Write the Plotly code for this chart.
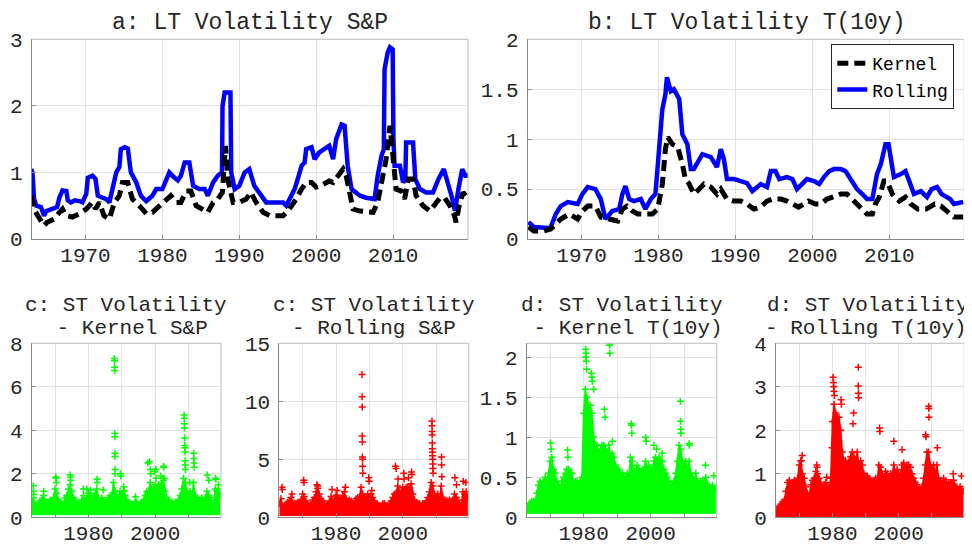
import numpy as np
import plotly.graph_objects as go

FONT = "Liberation Mono, Courier New, monospace"
# The page body has an 8px default margin; the figure is sized so that it
# fills the 972x544 window exactly, and positions below are window pixels.
OFF = 8
W, H = 972 - OFF, 544 - OFF
TXT = "#262626"

# ---------------- Top panels: long-term volatility ----------------
sp_roll_t = [1962.93, 1963.1, 1963.3, 1963.6, 1964.2, 1964.6, 1964.9, 1965.6, 1966.3, 1966.6,
             1967.0, 1967.5, 1967.7, 1968.1, 1968.6, 1969.2, 1969.6, 1970.1, 1970.3, 1970.9,
             1971.3, 1971.6, 1972.2, 1972.7, 1973.1, 1973.5, 1974.0, 1974.4, 1974.6, 1975.1,
             1975.5, 1975.9, 1976.6, 1977.2, 1977.9, 1978.7, 1979.2, 1980.0, 1980.5, 1980.9,
             1981.3, 1982.0, 1982.4, 1982.9, 1983.5, 1984.0, 1984.8, 1985.5, 1985.9, 1986.6,
             1987.2, 1987.75, 1987.82, 1988.1, 1988.85, 1988.95, 1989.4, 1990.0, 1990.7, 1991.3,
             1991.95, 1992.6, 1993.5, 1994.2, 1995.0, 1995.7, 1996.1, 1996.5, 1997.2, 1997.6,
             1998.1, 1998.5, 1998.7, 1999.4, 1999.8, 2000.4, 2001.1, 2001.7, 2002.2, 2002.6,
             2003.3, 2003.7, 2004.1, 2004.6, 2005.7, 2006.5, 2007.6, 2008.0, 2008.5, 2008.8,
             2008.9, 2009.3, 2009.6, 2009.95, 2010.05, 2010.2, 2010.9, 2011.3, 2011.6, 2011.7,
             2012.6, 2012.9, 2013.5, 2014.3, 2015.2, 2015.9, 2016.6, 2017.0, 2017.6, 2018.0,
             2018.1, 2018.5, 2019.0, 2019.4, 2019.77]
sp_roll_v = [1.05, 1.0, 0.6, 0.5, 0.48, 0.35, 0.42, 0.45, 0.48, 0.62,
             0.73, 0.72, 0.58, 0.55, 0.58, 0.57, 0.55, 0.68, 0.92, 0.95,
             0.9, 0.65, 0.62, 0.6, 0.55, 0.75, 1.0, 1.08, 1.35, 1.38,
             1.36, 1.0, 0.85, 0.65, 0.57, 0.65, 0.75, 0.75, 0.9, 1.0,
             0.95, 0.88, 0.95, 1.15, 1.15, 0.8, 0.75, 0.75, 0.65, 0.85,
             0.95, 1.0, 2.0, 2.2, 2.2, 1.0, 0.75, 0.8, 1.0, 1.05,
             0.8, 0.7, 0.55, 0.55, 0.55, 0.55, 0.5, 0.6, 0.75, 0.9,
             1.1, 1.15, 1.35, 1.38, 1.2, 1.3, 1.35, 1.4, 1.2, 1.5,
             1.72, 1.7, 1.1, 0.75, 0.65, 0.62, 0.6, 0.95, 1.25, 1.35,
             2.55, 2.8, 2.88, 2.85, 1.5, 1.1, 1.1, 0.85, 0.9, 1.45,
             1.45, 0.9, 0.75, 0.7, 0.7, 0.9, 1.05, 0.9, 0.65, 0.45,
             0.45, 0.75, 1.05, 0.95, 0.95]

sp_ker_t = [1962.93, 1963.3, 1963.8, 1964.6, 1965.0, 1965.9, 1966.6, 1967.0, 1967.5, 1968.3,
            1969.2, 1970.1, 1970.9, 1971.3, 1971.8, 1972.4, 1973.1, 1973.75, 1974.4, 1974.8,
            1975.5, 1976.1, 1977.0, 1977.9, 1978.7, 1979.6, 1980.5, 1981.1, 1981.8, 1982.4,
            1983.1, 1983.7, 1984.4, 1985.3, 1985.9, 1986.6, 1987.2, 1987.8, 1988.2, 1988.5,
            1989.2, 1990.0, 1990.9, 1991.5, 1992.2, 1993.1, 1994.0, 1994.8, 1995.7, 1996.5,
            1997.4, 1998.1, 1998.7, 1999.4, 2000.0, 2000.9, 2001.7, 2002.2, 2002.8, 2003.5,
            2003.9, 2004.3, 2004.8, 2005.7, 2006.7, 2007.4, 2008.0, 2008.7, 2009.1, 2009.6,
            2010.0, 2010.4, 2011.1, 2011.5, 2012.0, 2012.6, 2013.0, 2013.9, 2014.8, 2015.4,
            2016.1, 2016.7, 2017.4, 2018.0, 2018.2, 2018.6, 2019.1, 2019.77]
sp_ker_v = [0.65, 0.45, 0.35, 0.2, 0.25, 0.3, 0.4, 0.45, 0.35, 0.33,
            0.38, 0.45, 0.55, 0.45, 0.55, 0.35, 0.3, 0.55, 0.65, 0.85,
            0.85, 0.6, 0.5, 0.38, 0.4, 0.5, 0.6, 0.65, 0.55, 0.55,
            0.72, 0.72, 0.5, 0.45, 0.4, 0.55, 0.6, 0.7, 1.4, 0.9,
            0.55, 0.55, 0.6, 0.7, 0.55, 0.4, 0.35, 0.35, 0.35, 0.45,
            0.6, 0.75, 0.85, 0.85, 0.78, 0.82, 0.87, 0.85, 0.95, 1.05,
            0.95, 0.7, 0.45, 0.42, 0.4, 0.4, 0.55, 1.0, 1.2, 1.7,
            1.2, 0.75, 0.72, 0.6, 0.9, 0.9, 0.65, 0.5, 0.42, 0.5,
            0.62, 0.62, 0.5, 0.35, 0.25, 0.5, 0.7, 0.6]

ty_roll_t = [1963.1, 1963.8, 1965.6, 1966.0, 1966.65, 1967.3, 1968.2, 1969.5, 1970.1, 1970.8,
             1971.8, 1972.5, 1973.1, 1974.0, 1974.9, 1975.3, 1975.7, 1976.2, 1976.8, 1977.7,
             1978.3, 1979.0, 1979.6, 1980.1, 1980.5, 1980.9, 1981.1, 1981.6, 1982.0, 1982.7,
             1983.1, 1983.75, 1984.2, 1984.6, 1985.3, 1985.7, 1986.8, 1987.4, 1987.6, 1988.1,
             1988.5, 1988.9, 1989.8, 1990.7, 1991.5, 1992.2, 1993.3, 1994.1, 1994.6, 1995.2,
             1995.7, 1996.7, 1997.4, 1998.0, 1998.7, 1999.3, 2000.2, 2000.9, 2001.5, 2002.2,
             2002.8, 2003.7, 2004.3, 2005.0, 2005.8, 2006.5, 2007.1, 2007.8, 2008.4, 2008.9,
             2009.5, 2009.9, 2010.4, 2010.6, 2011.5, 2012.1, 2012.5, 2013.2, 2014.1, 2014.9,
             2015.5, 2016.2, 2016.8, 2017.9, 2018.4, 2019.6]
ty_roll_v = [0.17, 0.12, 0.11, 0.12, 0.25, 0.33, 0.37, 0.35, 0.45, 0.52,
             0.5, 0.4, 0.2, 0.28, 0.3, 0.45, 0.53, 0.4, 0.38, 0.4,
             0.3, 0.4, 0.45, 1.0, 1.3, 1.45, 1.62, 1.48, 1.5, 1.4,
             1.05, 0.95, 0.7, 0.7, 0.8, 0.85, 0.82, 0.75, 0.72, 0.9,
             0.8, 0.6, 0.6, 0.58, 0.56, 0.48, 0.55, 0.52, 0.68, 0.68,
             0.6, 0.62, 0.6, 0.5, 0.55, 0.6, 0.58, 0.55, 0.62, 0.68,
             0.7, 0.7, 0.68, 0.6, 0.5, 0.45, 0.4, 0.4, 0.65, 0.75,
             0.95, 0.95, 0.75, 0.62, 0.65, 0.68, 0.6, 0.45, 0.48, 0.42,
             0.5, 0.52, 0.45, 0.4, 0.35, 0.37]

ty_ker_t = [1963.1, 1963.8, 1965.1, 1966.0, 1966.65, 1967.3, 1968.4, 1969.5, 1970.1, 1970.8,
            1971.8, 1972.5, 1973.6, 1974.7, 1975.3, 1975.9, 1976.6, 1977.3, 1978.6, 1979.2,
            1979.9, 1980.5, 1980.9, 1981.2, 1981.8, 1982.5, 1983.1, 1983.5, 1984.0, 1984.6,
            1985.3, 1985.9, 1986.8, 1987.6, 1988.1, 1988.9, 1989.8, 1990.7, 1991.5, 1992.4,
            1993.3, 1994.1, 1994.8, 1995.9, 1996.7, 1997.6, 1998.2, 1998.9, 1999.5, 2000.4,
            2001.1, 2001.9, 2002.8, 2003.7, 2004.5, 2005.4, 2006.3, 2007.1, 2007.8, 2008.2,
            2008.7, 2009.3, 2009.7, 2010.4, 2011.3, 2012.1, 2012.8, 2013.7, 2014.8, 2015.9,
            2016.7, 2017.5, 2018.4, 2019.6]
ty_ker_v = [0.12, 0.08, 0.08, 0.1, 0.15, 0.2, 0.25, 0.2, 0.28, 0.33,
            0.33, 0.22, 0.2, 0.18, 0.3, 0.33, 0.28, 0.25, 0.25, 0.25,
            0.3, 0.55, 0.9, 1.02, 0.95, 0.92, 0.75, 0.6, 0.55, 0.45,
            0.5, 0.55, 0.52, 0.45, 0.5, 0.4, 0.38, 0.38, 0.35, 0.3,
            0.32, 0.38, 0.4, 0.4, 0.38, 0.35, 0.32, 0.35, 0.38, 0.35,
            0.35, 0.4, 0.43, 0.45, 0.45, 0.38, 0.3, 0.25, 0.25, 0.35,
            0.42, 0.58, 0.58, 0.45, 0.38, 0.42, 0.35, 0.3, 0.3, 0.35,
            0.33, 0.28, 0.22, 0.22]

# ---------------- Bottom panels: short-term volatility ----------------
# Dense cloud: upper edge per half-year (1963.0 ... 2019.5), lower edge as floor
half_years = np.arange(1963.0, 2020.0, 0.5)

st_ker_sp_core = [0.6, 0.9,  0.6, 0.55,  0.6, 0.75,  0.8, 1.0,  0.75, 0.7,
                  0.7, 0.8,  0.75, 0.9,  1.3, 1.1,  0.8, 0.7,  0.6, 0.6,
                  0.9, 1.0,  1.3, 1.5,  1.2, 0.9,  0.8, 0.7,  0.6, 0.6,
                  0.8, 1.0,  0.8, 0.9,  1.1, 1.0,  0.9, 0.9,  1.1, 1.3,
                  0.9, 0.8,  0.9, 0.8,  0.7, 0.7,  0.9, 1.0,  1.0, 1.6,
                  1.2, 1.0,  0.9, 1.2,  1.0, 1.2,  1.0, 0.8,  0.7, 0.6,
                  0.6, 0.6,  0.7, 0.7,  0.6, 0.6,  0.7, 0.8,  1.0, 1.2,
                  1.2, 1.6,  1.3, 1.3,  1.5, 1.4,  1.5, 1.5,  1.5, 1.7,
                  1.2, 0.9,  0.8, 0.7,  0.7, 0.6,  0.7, 0.7,  0.8, 1.0,
                  1.3, 1.8,  1.6, 1.2,  1.0, 1.2,  0.9, 1.6,  1.0, 0.9,
                  0.8, 0.8,  0.9, 0.8,  0.9, 1.2,  1.0, 0.9,  0.7, 0.6,
                  1.3, 1.2,  1.3, 1.0]
st_ker_sp_floor = 0.12
st_ker_sp_out_t = [1963.5, 1963.5, 1963.6, 1966.6, 1970.2, 1970.3, 1970.4, 1974.5, 1974.6, 1974.7,
                   1978.5, 1979.5, 1980.6, 1982.6, 1982.7, 1984.5, 1987.8, 1987.8, 1987.85, 1987.85,
                   1987.9, 1987.9, 1987.95, 1987.95, 1988.0, 1988.0, 1989.6, 1989.7, 1990.6, 1990.8,
                   1994.1, 1997.8, 1998.3, 1998.6, 1998.7, 1999.8, 2000.2, 2000.3, 2001.7, 2002.5,
                   2002.6, 2002.7, 2008.7, 2008.75, 2008.8, 2008.8, 2008.85, 2008.9, 2008.9, 2008.95,
                   2009.0, 2009.0, 2009.1, 2010.4, 2011.6, 2011.6, 2011.65, 2011.7, 2015.6, 2016.1,
                   2018.1, 2018.2, 2019.0]
st_ker_sp_out_v = [1.45, 1.2, 1.05, 1.2, 1.85, 1.8, 1.6, 1.95, 1.85, 1.7,
                   1.3, 1.3, 1.25, 1.75, 1.6, 1.25, 7.3, 7.2, 6.9, 6.75,
                   3.85, 3.7, 2.95, 2.8, 2.2, 2.0, 2.0, 1.9, 1.4, 1.2,
                   0.95, 2.5, 2.55, 2.2, 2.0, 2.1, 2.2, 1.8, 1.9, 2.35,
                   2.3, 1.8, 4.7, 4.55, 4.3, 4.1, 3.65, 3.3, 3.2, 3.0,
                   2.6, 2.4, 2.2, 1.6, 2.95, 2.7, 2.5, 2.3, 1.95, 1.7,
                   1.8, 1.75, 1.5]

st_roll_sp_core = [1.2, 1.6,  1.0, 1.0,  1.1, 1.3,  1.4, 1.7,  1.3, 1.2,
                   1.2, 1.3,  1.3, 1.5,  2.0, 1.8,  1.4, 1.2,  1.0, 1.1,
                   1.5, 1.7,  2.2, 2.5,  2.0, 1.6,  1.4, 1.2,  1.0, 1.1,
                   1.4, 1.8,  1.4, 1.5,  1.9, 1.7,  1.6, 1.6,  1.9, 2.2,
                   1.6, 1.4,  1.5, 1.4,  1.2, 1.2,  1.6, 1.7,  1.7, 2.6,
                   2.0, 1.8,  1.6, 2.0,  1.7, 2.0,  1.7, 1.4,  1.2, 1.1,
                   1.0, 1.0,  1.2, 1.2,  1.0, 1.0,  1.2, 1.4,  1.7, 2.0,
                   2.1, 2.7,  2.2, 2.2,  2.6, 2.4,  2.6, 2.6,  2.6, 2.9,
                   2.0, 1.5,  1.3, 1.2,  1.2, 1.0,  1.2, 1.2,  1.4, 1.7,
                   2.2, 3.0,  2.7, 2.0,  1.7, 2.0,  1.5, 2.7,  1.7, 1.5,
                   1.4, 1.4,  1.5, 1.4,  1.5, 2.0,  1.7, 1.5,  1.2, 1.0,
                   2.2, 2.0,  2.2, 1.7]
st_roll_sp_floor = 0.15
st_roll_sp_out_t = [1963.8, 1963.9, 1966.8, 1970.3, 1970.4, 1974.3, 1974.5, 1978.8, 1980.3, 1982.8,
                    1987.8, 1987.8, 1987.85, 1987.85, 1987.9, 1987.9, 1987.95, 1987.95, 1988.0, 1989.8,
                    1989.9, 1990.7, 1997.8, 1998.0, 1998.6, 2000.3, 2000.4, 2001.7, 2002.6, 2002.7,
                    2008.75, 2008.75, 2008.8, 2008.8, 2008.85, 2008.85, 2008.9, 2008.9, 2008.95, 2009.0,
                    2009.0, 2009.1, 2011.6, 2011.65, 2011.7, 2015.6, 2016.1, 2018.1, 2018.9]
st_roll_sp_out_v = [2.6, 2.4, 2.0, 3.2, 3.0, 2.8, 2.7, 2.4, 2.3, 2.6,
                    12.3, 10.4, 9.5, 7.0, 6.5, 5.2, 5.0, 4.4, 3.8, 3.4,
                    3.1, 2.3, 4.4, 4.2, 3.3, 3.8, 3.3, 3.4, 3.9, 3.7,
                    8.3, 7.9, 7.4, 7.1, 6.4, 5.9, 5.6, 5.3, 5.0, 4.6,
                    4.2, 3.8, 5.2, 4.5, 3.5, 3.4, 2.8, 3.1, 3.0]

st_ker_ty_core = [0.12, 0.15,  0.18, 0.2,  0.2, 0.2,  0.3, 0.4,  0.45, 0.4,
                  0.45, 0.5,  0.45, 0.55,  0.7, 0.75,  0.6, 0.55,  0.45, 0.4,
                  0.35, 0.45,  0.5, 0.55,  0.6, 0.6,  0.55, 0.55,  0.4, 0.45,
                  0.45, 0.4,  0.45, 0.5,  1.3, 1.6,  1.5, 1.4,  1.4, 1.3,
                  1.0, 0.9,  0.9, 0.8,  0.85, 0.9,  0.9, 0.85,  0.8, 0.9,
                  0.75, 0.8,  0.75, 0.65,  0.6, 0.6,  0.55, 0.55,  0.5, 0.5,
                  0.55, 0.5,  0.75, 0.7,  0.6, 0.55,  0.65, 0.6,  0.55, 0.6,
                  0.6, 0.7,  0.6, 0.65,  0.6, 0.6,  0.7, 0.75,  0.7, 0.75,
                  0.7, 0.7,  0.6, 0.55,  0.5, 0.45,  0.4, 0.4,  0.45, 0.55,
                  0.7, 0.9,  0.85, 0.7,  0.65, 0.7,  0.6, 0.7,  0.55, 0.5,
                  0.45, 0.55,  0.45, 0.45,  0.45, 0.45,  0.45, 0.5,  0.4, 0.4,
                  0.35, 0.4,  0.35, 0.35]
st_ker_ty_floor = 0.05
st_ker_ty_out_t = [1970.1, 1970.3, 1975.2, 1975.3, 1980.6, 1980.7, 1980.6, 1980.8, 1980.9, 1982.3,
                   1982.5, 1982.6, 1983.0, 1986.2, 1986.4, 1987.8, 1987.8, 1987.85, 1988.6, 1994.2,
                   1994.3, 1994.4, 1998.5, 1998.7, 2001.0, 2001.8, 2003.5, 2008.9, 2008.95, 2009.0,
                   2009.05, 2011.5, 2011.6, 2016.4, 2018.9]
st_ker_ty_out_v = [0.93, 0.85, 0.84, 0.75, 2.1, 2.05, 2.0, 1.95, 1.85, 1.8,
                   1.75, 1.7, 1.6, 1.35, 1.25, 2.17, 2.15, 2.05, 0.95, 1.17,
                   1.15, 1.05, 1.0, 0.95, 0.9, 0.85, 0.8, 1.45, 1.2, 1.1,
                   1.05, 0.92, 0.9, 0.65, 0.52]

st_roll_ty_core = [0.15, 0.2,  0.25, 0.3,  0.35, 0.4,  0.6, 0.8,  0.85, 0.75,
                   0.8, 0.85,  0.8, 0.9,  1.2, 1.3,  1.0, 0.9,  0.7, 0.55,
                   0.5, 0.75,  0.85, 0.9,  1.05, 1.0,  0.9, 0.8,  0.7, 0.75,
                   0.8, 0.7,  0.7, 0.9,  2.2, 2.6,  2.4, 2.3,  2.3, 2.0,
                   1.5, 1.3,  1.3, 1.2,  1.3, 1.4,  1.5, 1.4,  1.3, 1.5,
                   1.2, 1.3,  1.2, 1.0,  0.95, 0.95,  0.9, 0.85,  0.8, 0.85,
                   0.9, 0.85,  1.2, 1.15,  1.0, 0.9,  1.05, 1.0,  0.9, 1.0,
                   1.0, 1.2,  1.0, 1.1,  1.0, 1.0,  1.2, 1.25,  1.15, 1.2,
                   1.2, 1.15,  1.0, 0.9,  0.8, 0.75,  0.65, 0.65,  0.7, 0.9,
                   1.2, 1.5,  1.5, 1.2,  1.1, 1.2,  1.0, 1.2,  0.9, 0.85,
                   0.75, 0.9,  0.8, 0.8,  0.8, 0.8,  0.8, 0.85,  0.7, 0.7,
                   0.65, 0.7,  0.65, 0.6]
st_roll_ty_floor = 0.02
st_roll_ty_out_t = [1970.9, 1970.6, 1975.3, 1975.4, 1978.3, 1979.9, 1980.2, 1980.3, 1980.4, 1980.5,
                    1980.6, 1982.6, 1982.7, 1986.4, 1986.2, 1987.8, 1987.8, 1987.85, 1987.9, 1994.2,
                    1994.3, 1998.5, 2001.0, 2008.1, 2008.2, 2009.0, 2009.05, 2009.1, 2011.6, 2016.4,
                    2018.9]
st_roll_ty_out_v = [1.42, 1.3, 1.2, 1.15, 0.92, 1.6, 3.22, 3.1, 3.0, 2.9,
                    2.8, 2.7, 2.6, 2.4, 2.15, 3.45, 3.02, 2.85, 2.75, 2.05,
                    1.97, 1.75, 1.55, 1.9, 1.85, 2.55, 2.5, 2.3, 1.6, 1.0,
                    0.95]

# ---------------- Axis ticks ----------------
top_xticks = [1970, 1980, 1990, 2000, 2010]
top_xtext = ["1970", "1980", "1990", "2000", "2010"]
bot_xticks = [1970, 1980, 1990, 2000, 2010]
bot_xtext = ["", "1980", "", "2000", ""]
x_range = [1963.0, 2019.75]

# ---------------- Layout geometry (window pixels) ----------------
def fx(px):
    return (px - OFF) / W

def fy(py):
    return 1 - (py - OFF) / H

def px_dom_x(a, b):
    return [fx(a), fx(b)]

def px_dom_y(top, bottom):
    return [fy(bottom), fy(top)]

panels = {
    1: dict(x=px_dom_x(31.7, 468.0), y=px_dom_y(39.3, 239.0), yr=[0, 3],
            yt=[0, 1, 2, 3], ytt=["0", "1", "2", "3"], xt=top_xticks, xtt=top_xtext, so=-3),
    2: dict(x=px_dom_x(527.7, 964.3), y=px_dom_y(39.3, 239.0), yr=[0, 2],
            yt=[0, 0.5, 1, 1.5, 2], ytt=["0", "0.5", "1", "1.5", "2"], xt=top_xticks, xtt=top_xtext, so=-3),
    3: dict(x=px_dom_x(31.7, 221.0), y=px_dom_y(343.3, 517.3), yr=[0, 8],
            yt=[0, 2, 4, 6, 8], ytt=["0", "2", "4", "6", "8"], xt=bot_xticks, xtt=bot_xtext, so=-4),
    4: dict(x=px_dom_x(279.3, 468.7), y=px_dom_y(343.3, 517.3), yr=[0, 15],
            yt=[0, 5, 10, 15], ytt=["0", "5", "10", "15"], xt=bot_xticks, xtt=bot_xtext, so=-4),
    5: dict(x=px_dom_x(526.7, 716.7), y=px_dom_y(343.3, 517.3), yr=[0, 2.175],
            yt=[0, 0.5, 1, 1.5, 2], ytt=["0", "0.5", "1", "1.5", "2"], xt=bot_xticks, xtt=bot_xtext, so=-4),
    6: dict(x=px_dom_x(776.0, 964.3), y=px_dom_y(343.3, 517.3), yr=[0, 4],
            yt=[0, 1, 2, 3, 4], ytt=["0", "1", "2", "3", "4"], xt=bot_xticks, xtt=bot_xtext, so=-4),
}

fig = go.Figure()

BLUE = "#0000FF"
GREEN = "#00FF00"
RED = "#FF0000"
KDASH = "11px,6px"

# Top-left
fig.add_trace(go.Scatter(x=sp_roll_t, y=sp_roll_v, mode="lines", line=dict(color=BLUE, width=4.5),
                         xaxis="x", yaxis="y", showlegend=False))
fig.add_trace(go.Scatter(x=sp_ker_t, y=sp_ker_v, mode="lines",
                         line=dict(color="black", width=5, dash=KDASH),
                         xaxis="x", yaxis="y", showlegend=False))
# Top-right
fig.add_trace(go.Scatter(x=ty_roll_t, y=ty_roll_v, mode="lines", line=dict(color=BLUE, width=4.5),
                         xaxis="x2", yaxis="y2", name="Rolling", legendrank=2))
fig.add_trace(go.Scatter(x=ty_ker_t, y=ty_ker_v, mode="lines",
                         line=dict(color="black", width=5, dash=KDASH),
                         xaxis="x2", yaxis="y2", name="Kernel", legendrank=1))

def add_cloud(idx, core, floor, out_t, out_v, color):
    xa, ya = f"x{idx}", f"y{idx}"
    fig.add_trace(go.Scatter(x=half_years, y=[floor] * len(half_years), mode="lines",
                             line=dict(color=color, width=1), xaxis=xa, yaxis=ya, showlegend=False,
                             hoverinfo="skip"))
    fig.add_trace(go.Scatter(x=half_years, y=core, mode="lines+markers", fill="tonexty",
                             fillcolor=color, line=dict(color=color, width=1.5),
                             marker=dict(symbol="cross-thin", size=5, line=dict(color=color, width=1.5)),
                             xaxis=xa, yaxis=ya, showlegend=False))
    fig.add_trace(go.Scatter(x=out_t, y=out_v, mode="markers",
                             marker=dict(symbol="cross-thin", size=5, line=dict(color=color, width=1.5)),
                             xaxis=xa, yaxis=ya, showlegend=False))

add_cloud(3, st_ker_sp_core, st_ker_sp_floor, st_ker_sp_out_t, st_ker_sp_out_v, GREEN)
add_cloud(4, st_roll_sp_core, st_roll_sp_floor, st_roll_sp_out_t, st_roll_sp_out_v, RED)
add_cloud(5, st_ker_ty_core, st_ker_ty_floor, st_ker_ty_out_t, st_ker_ty_out_v, GREEN)
add_cloud(6, st_roll_ty_core, st_roll_ty_floor, st_roll_ty_out_t, st_roll_ty_out_v, RED)

layout = dict(
    width=W, height=H, margin=dict(l=0, r=0, t=0, b=0),
    paper_bgcolor="white", plot_bgcolor="white",
    font=dict(family=FONT, size=21, color=TXT),
    legend=dict(x=fx(954.3), xanchor="right", y=fy(44.0), yanchor="top",
                bgcolor="white", bordercolor="#262626", borderwidth=1,
                font=dict(family=FONT, size=18, color="black"),
                tracegroupgap=0, itemwidth=30, traceorder="normal"),
)
shapes = []
for i, p in panels.items():
    sfx = "" if i == 1 else str(i)
    layout[f"xaxis{sfx}"] = dict(
        domain=p["x"], anchor=f"y{sfx}", range=x_range, tickvals=p["xt"], ticktext=p["xtt"],
        showgrid=True, gridcolor="#e3e3e3", gridwidth=1, zeroline=False,
        showline=True, linecolor="#8a8a8a", linewidth=1, ticks="inside", ticklen=4,
        tickcolor="#8a8a8a", tickfont=dict(family=FONT, size=21, color=TXT), automargin=False,
        ticklabelstandoff=p["so"])
    layout[f"yaxis{sfx}"] = dict(
        domain=p["y"], anchor=f"x{sfx}", range=p["yr"], tickvals=p["yt"], ticktext=p["ytt"],
        showgrid=True, gridcolor="#e3e3e3", gridwidth=1, zeroline=False,
        showline=True, linecolor="#8a8a8a", linewidth=1, ticks="inside", ticklen=4,
        tickcolor="#8a8a8a", tickfont=dict(family=FONT, size=21, color=TXT), automargin=False,
        ticklabelstandoff=4)
    xr = "x domain" if i == 1 else f"x{i} domain"
    yr = "y domain" if i == 1 else f"y{i} domain"
    shapes.append(dict(type="line", xref=xr, yref=yr, x0=0, x1=1, y0=1, y1=1,
                       line=dict(color="#bdbdbd", width=1)))
    shapes.append(dict(type="line", xref=xr, yref=yr, x0=1, x1=1, y0=0, y1=1,
                       line=dict(color="#bdbdbd", width=1)))
layout["shapes"] = shapes

# (text, x px, y px, size, anchor)  -- window pixels
titles = [
    ("a: LT Volatility S&P", 249.9, 23.0, 23, "center"),
    ("b: LT Volatility T(10y)", 746.0, 23.0, 23, "center"),
    ("c: ST Volatility", 126.35, 305.0, 21, "center"),
    ("\u00a0- Kernel S&P", 126.35, 328.0, 21, "center"),
    ("c: ST Volatility", 374.0, 305.0, 21, "center"),
    ("- Rolling S&P", 374.0, 328.0, 21, "center"),
    ("d: ST Volatility", 621.7, 305.0, 21, "center"),
    ("\u00a0- Kernel T(10y)", 621.7, 328.0, 21, "center"),
    ("d: ST Volatility", 970.0, 305.0, 21, "right"),
    ("- Rolling T(10y)", 968.0, 328.0, 21, "right"),
]
layout["annotations"] = [
    dict(text=t, x=fx(x), y=fy(y), xref="paper", yref="paper", xanchor=a,
         yanchor="middle", showarrow=False, borderpad=0,
         font=dict(family=FONT, size=s, color=TXT))
    for t, x, y, s, a in titles
]

fig.update_layout(**layout)
fig.write_html("out.html")
